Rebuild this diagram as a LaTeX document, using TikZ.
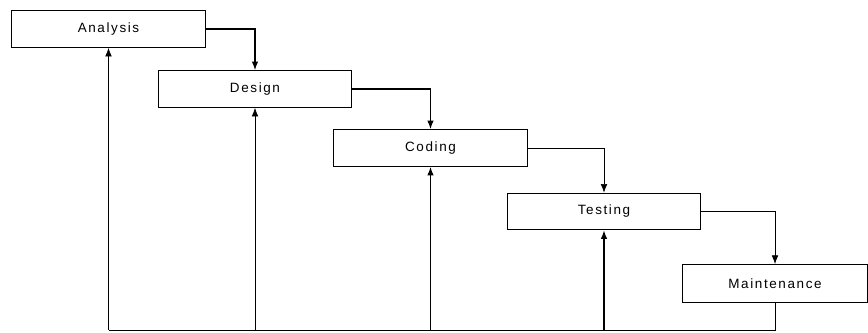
\documentclass[tikz,border=0pt]{standalone}
\usepackage{fontspec}
\newfontfamily\boxfont[LetterSpace=12]{Liberation Sans}
\usetikzlibrary{arrows.meta}
\tikzset{>=Latex}
\tikzset{phase/.style = {rectangle, draw=black, line width=0.8pt, minimum width=5.8cm, minimum height=1.1cm, inner sep=0pt, font=\boxfont\fontsize{11.5}{13}\selectfont}}
\tikzset{flow/.style = {-{Latex[length=2.6mm,width=2mm]}, line width=0.6pt}}
\tikzset{flowthick/.style = {flow, line width=1.2pt}}

\begin{document}
\begin{tikzpicture}[x=0.03cm, y=-0.03cm]
\useasboundingbox (0,0) rectangle (868,332);
\node [phase] (An) at (108.5, 29) {Analysis};
\node [phase] (De) at (255, 89) {Design};
\node [phase] (Co) at (430.5, 148) {Coding};
\node [phase] (Te) at (604, 211.5) {Testing};
\node [phase, minimum width=5.55cm, minimum height=1.14cm] (Ma) at (775, 283.5) {Maintenance};
\coordinate (base) at (0, 330);
% forward steps
\draw [flowthick] (An) -| (De.north);
\draw [flowthick] (De) -| (Co.north);
\draw [flow] (Co) -| (Te.north);
\draw [flow] (Te) -| (Ma.north);
% feedback to each phase
\draw [line width=0.6pt] (Ma.south) |- (An.south |- base);
\draw [flow] (An.south |- base) -- (An.south);
\draw [flow] (De.south |- base) -- (De.south);
\draw [flowthick] (Co.south |- base) -- (Co.south);
\draw [flowthick] (Te.south |- base) -- (Te.south);
\end{tikzpicture}
\end{document}
